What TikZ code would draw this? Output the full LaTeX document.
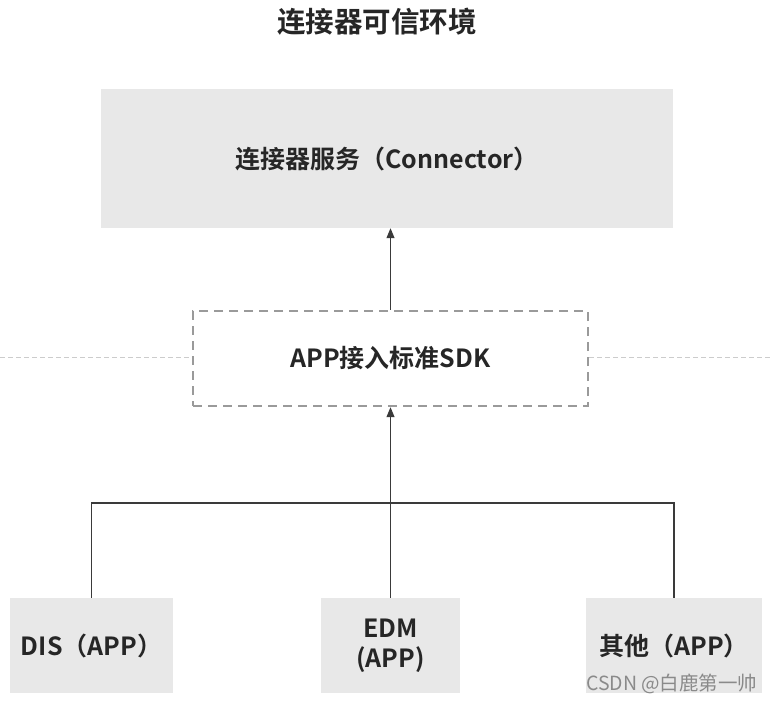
\documentclass[tikz,border=0pt]{standalone}
\usepackage{fontspec}
\setmainfont{Noto Sans CJK SC}[BoldFont={* Bold}]
\usetikzlibrary{arrows.meta}
\definecolor{boxgray}{HTML}{E8E8E8}
\definecolor{linedark}{HTML}{3A3A3A}
\definecolor{dashgray}{HTML}{9A9A9A}
\definecolor{sidegray}{HTML}{CCCCCC}
\definecolor{wmgray}{HTML}{8A8A8A}
\tikzset{
  graybox/.style={fill=boxgray, draw=none, inner sep=0pt, align=center,
    font=\bfseries\fontsize{25}{30}\selectfont, text=black!85},
  sdkbox/.style={draw=dashgray, line width=2.4pt, dash pattern=on 9pt off 6pt,
    inner sep=0pt, align=center, font=\bfseries\fontsize{25}{30}\selectfont, text=black!85},
  conn/.style={draw=linedark, line width=1.1pt},
  arr/.style={conn, -{Triangle[length=10pt,width=8pt]}},
  sideline/.style={draw=sidegray, line width=1pt, dash pattern=on 5pt off 3pt},
}
\begin{document}
\begin{tikzpicture}[x=1pt,y=-1pt]
\useasboundingbox (0,0) rectangle (773,701);
\fill[white] (0,0) rectangle (773,701);
\node[font=\bfseries\fontsize{28.5}{32}\selectfont, text=black!85] (title) at (377,22) {连接器可信环境};
\node[graybox, minimum width=572pt, minimum height=139pt] (top) at (387,158.5) {连接器服务（Connector）};
\node[sdkbox, minimum width=395pt, minimum height=95pt] (sdk) at (390.5,358.5) {APP接入标准SDK};
\node[graybox, minimum width=163pt, minimum height=95pt] (dis) at (91.5,645.5) {DIS（APP）};
\node[graybox, minimum width=139pt, minimum height=95pt] (edm) at (390.5,645.5) {EDM\\(APP)};
\node[graybox, minimum width=176pt, minimum height=95pt] (other) at (674,645.5) {其他（APP）};
\coordinate (j) at (391,503);
\coordinate (lft) at (0,357);
\coordinate (rgt) at (773,357);
\draw[sideline] (lft) -- (lft -| sdk.west);
\draw[sideline] (sdk.east |- rgt) -- (rgt);
\draw[conn] (dis.north) -- (dis.north |- j) -- (other.north |- j) -- (other.north);
\draw[arr] (edm.north) -- (sdk.south);
\draw[arr] (sdk.north) -- (sdk.north |- top.south);
\node[font=\fontsize{19.5}{22}\selectfont, text=wmgray, anchor=east] (wm) at (761,684) {CSDN @白鹿第一帅};
\end{tikzpicture}
\end{document}
